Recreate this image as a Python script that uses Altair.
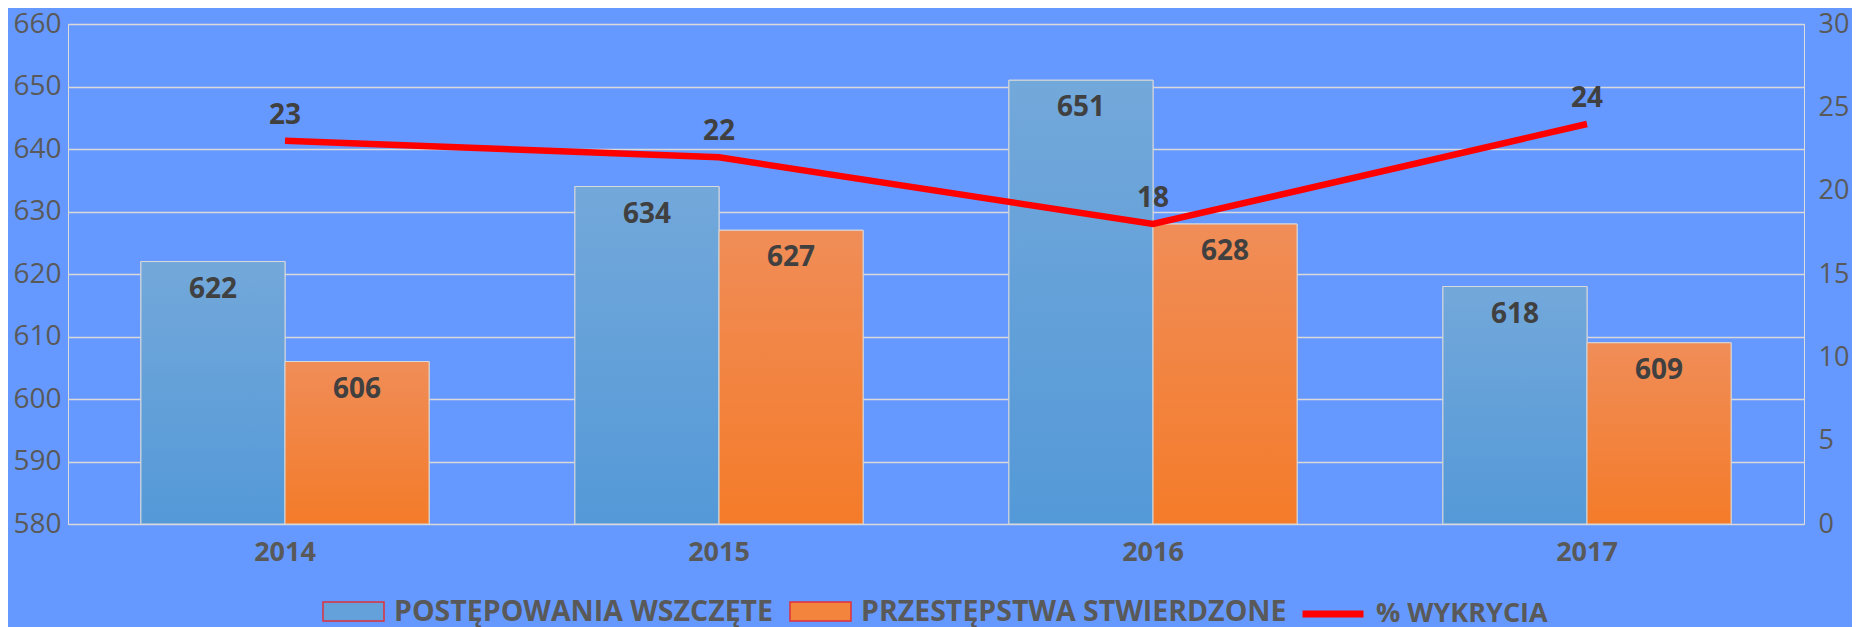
import altair as alt
import pandas as pd

years = ["2014", "2015", "2016", "2017"]
series_names = ["POSTĘPOWANIA WSZCZĘTE", "PRZESTĘPSTWA STWIERDZONE"]
wszczete = [622, 634, 651, 618]
stwierdzone = [606, 627, 628, 609]
wykrycia = [23, 22, 18, 24]
line_name = "% WYKRYCIA"
left_ticks = [580, 590, 600, 610, 620, 630, 640, 650, 660]
right_ticks = [0, 5, 10, 15, 20, 25, 30]

rows = []
for i, y in enumerate(years):
    rows.append({"year": y, "series": series_names[0], "value": wszczete[i], "base": 580})
    rows.append({"year": y, "series": series_names[1], "value": stwierdzone[i], "base": 580})
bars_df = pd.DataFrame(rows)
line_df = pd.DataFrame({"year": years, "pct": wykrycia, "name": [line_name] * len(years)})

FONT = "Open Sans"
BG = "#6699FF"
GRID = "#D9D9D9"
AXC = "#595959"
LBL = "#404040"
BLUE = "#64A0DA"
ORANGE = "#F2843E"

x_enc = alt.X("year:N", sort=years, title=None,
              scale=alt.Scale(paddingInner=0.336, paddingOuter=0.168),
              axis=alt.Axis(labelFont=FONT, labelFontSize=27, labelFontWeight="bold",
                            labelColor=AXC, labelPadding=15, ticks=False, domain=False,
                            labelAngle=0, grid=False))
xoff = alt.XOffset("series:N", sort=series_names,
                   scale=alt.Scale(domain=series_names, paddingInner=0, paddingOuter=0))
y_left = alt.Y("value:Q", title=None,
               scale=alt.Scale(domain=[580, 660], zero=False, nice=False),
               axis=alt.Axis(values=left_ticks, labelFont=FONT, labelFontSize=28,
                             labelColor=AXC, labelPadding=7, ticks=False, domain=False,
                             grid=True, gridColor=GRID, gridWidth=1.5))

base = alt.Chart(bars_df)

bars_solid = base.mark_bar(stroke=GRID, strokeWidth=1).encode(
    x=x_enc, xOffset=xoff, y=y_left, y2="base:Q",
    color=alt.Color("series:N", sort=series_names,
                    scale=alt.Scale(domain=series_names, range=[BLUE, ORANGE]),
                    legend=alt.Legend(orient="none", legendX=254, legendY=556,
                                      direction="horizontal", title=None,
                                      symbolType="M-1,-0.31H1V0.31H-1Z", symbolSize=3721,
                                      symbolOpacity=1, symbolStrokeColor="#E0303A",
                                      symbolStrokeWidth=1.5,
                                      labelFont=FONT, labelFontSize=28.5, labelFontWeight="bold",
                                      labelColor=AXC, labelOffset=9, labelLimit=1000,
                                      columnPadding=13, padding=0)),
)

grad_blue = alt.Gradient(gradient="linear", x1=0, x2=0, y1=0, y2=1,
                         stops=[alt.GradientStop(color="#73A8DA", offset=0),
                                alt.GradientStop(color="#5499D8", offset=1)])
grad_orange = alt.Gradient(gradient="linear", x1=0, x2=0, y1=0, y2=1,
                           stops=[alt.GradientStop(color="#F08D58", offset=0),
                                  alt.GradientStop(color="#F47B29", offset=1)])

bars_blue = base.transform_filter(alt.datum.series == series_names[0]).mark_bar(
    fill=grad_blue, stroke=GRID, strokeWidth=1).encode(
    x=x_enc, xOffset=xoff, y=y_left, y2="base:Q")
bars_orange = base.transform_filter(alt.datum.series == series_names[1]).mark_bar(
    fill=grad_orange, stroke=GRID, strokeWidth=1).encode(
    x=x_enc, xOffset=xoff, y=y_left, y2="base:Q")

bar_text = base.mark_text(font=FONT, fontSize=28, fontWeight="bold", color=LBL,
                          baseline="middle", dy=28).encode(
    x=x_enc, xOffset=xoff, y=y_left, text="value:Q")

bar_group = alt.layer(bars_solid, bars_blue, bars_orange, bar_text)

y_right = alt.Y("pct:Q", title=None,
                scale=alt.Scale(domain=[0, 30], nice=False),
                axis=alt.Axis(orient="right", values=right_ticks, labelFont=FONT,
                              labelFontSize=27, labelColor=AXC, labelPadding=14,
                              ticks=False, domain=False, grid=False))

line = alt.Chart(line_df).mark_line(strokeWidth=6.5, strokeCap="butt").encode(
    x=x_enc, y=y_right,
    stroke=alt.Stroke("name:N", scale=alt.Scale(domain=[line_name], range=["#FF0000"]),
                      legend=alt.Legend(orient="none", legendX=1231, legendY=556,
                                        title=None, symbolType="stroke", symbolSize=3721,
                                        symbolStrokeWidth=7, labelFont=FONT, labelFontSize=27,
                                        labelFontWeight="bold", labelColor=AXC, labelOffset=9,
                                        labelLimit=1000, padding=0)),
)
line_text = alt.Chart(line_df).mark_text(font=FONT, fontSize=28, fontWeight="bold",
                                         color=LBL, baseline="middle", dy=-25).encode(
    x=x_enc, y=y_right, text="pct:Q")

line_group = alt.layer(line, line_text)

chart = alt.layer(bar_group, line_group).resolve_scale(y="independent").properties(
    width=1736, height=500,
    padding={"left": 60, "top": 16, "right": 48, "bottom": 103},
    autosize=alt.AutoSizeParams(type="none"),
    background=BG,
).configure_view(stroke=None).configure(font=FONT)

chart.save("out.html", embed_options={"renderer": "svg", "actions": False})
